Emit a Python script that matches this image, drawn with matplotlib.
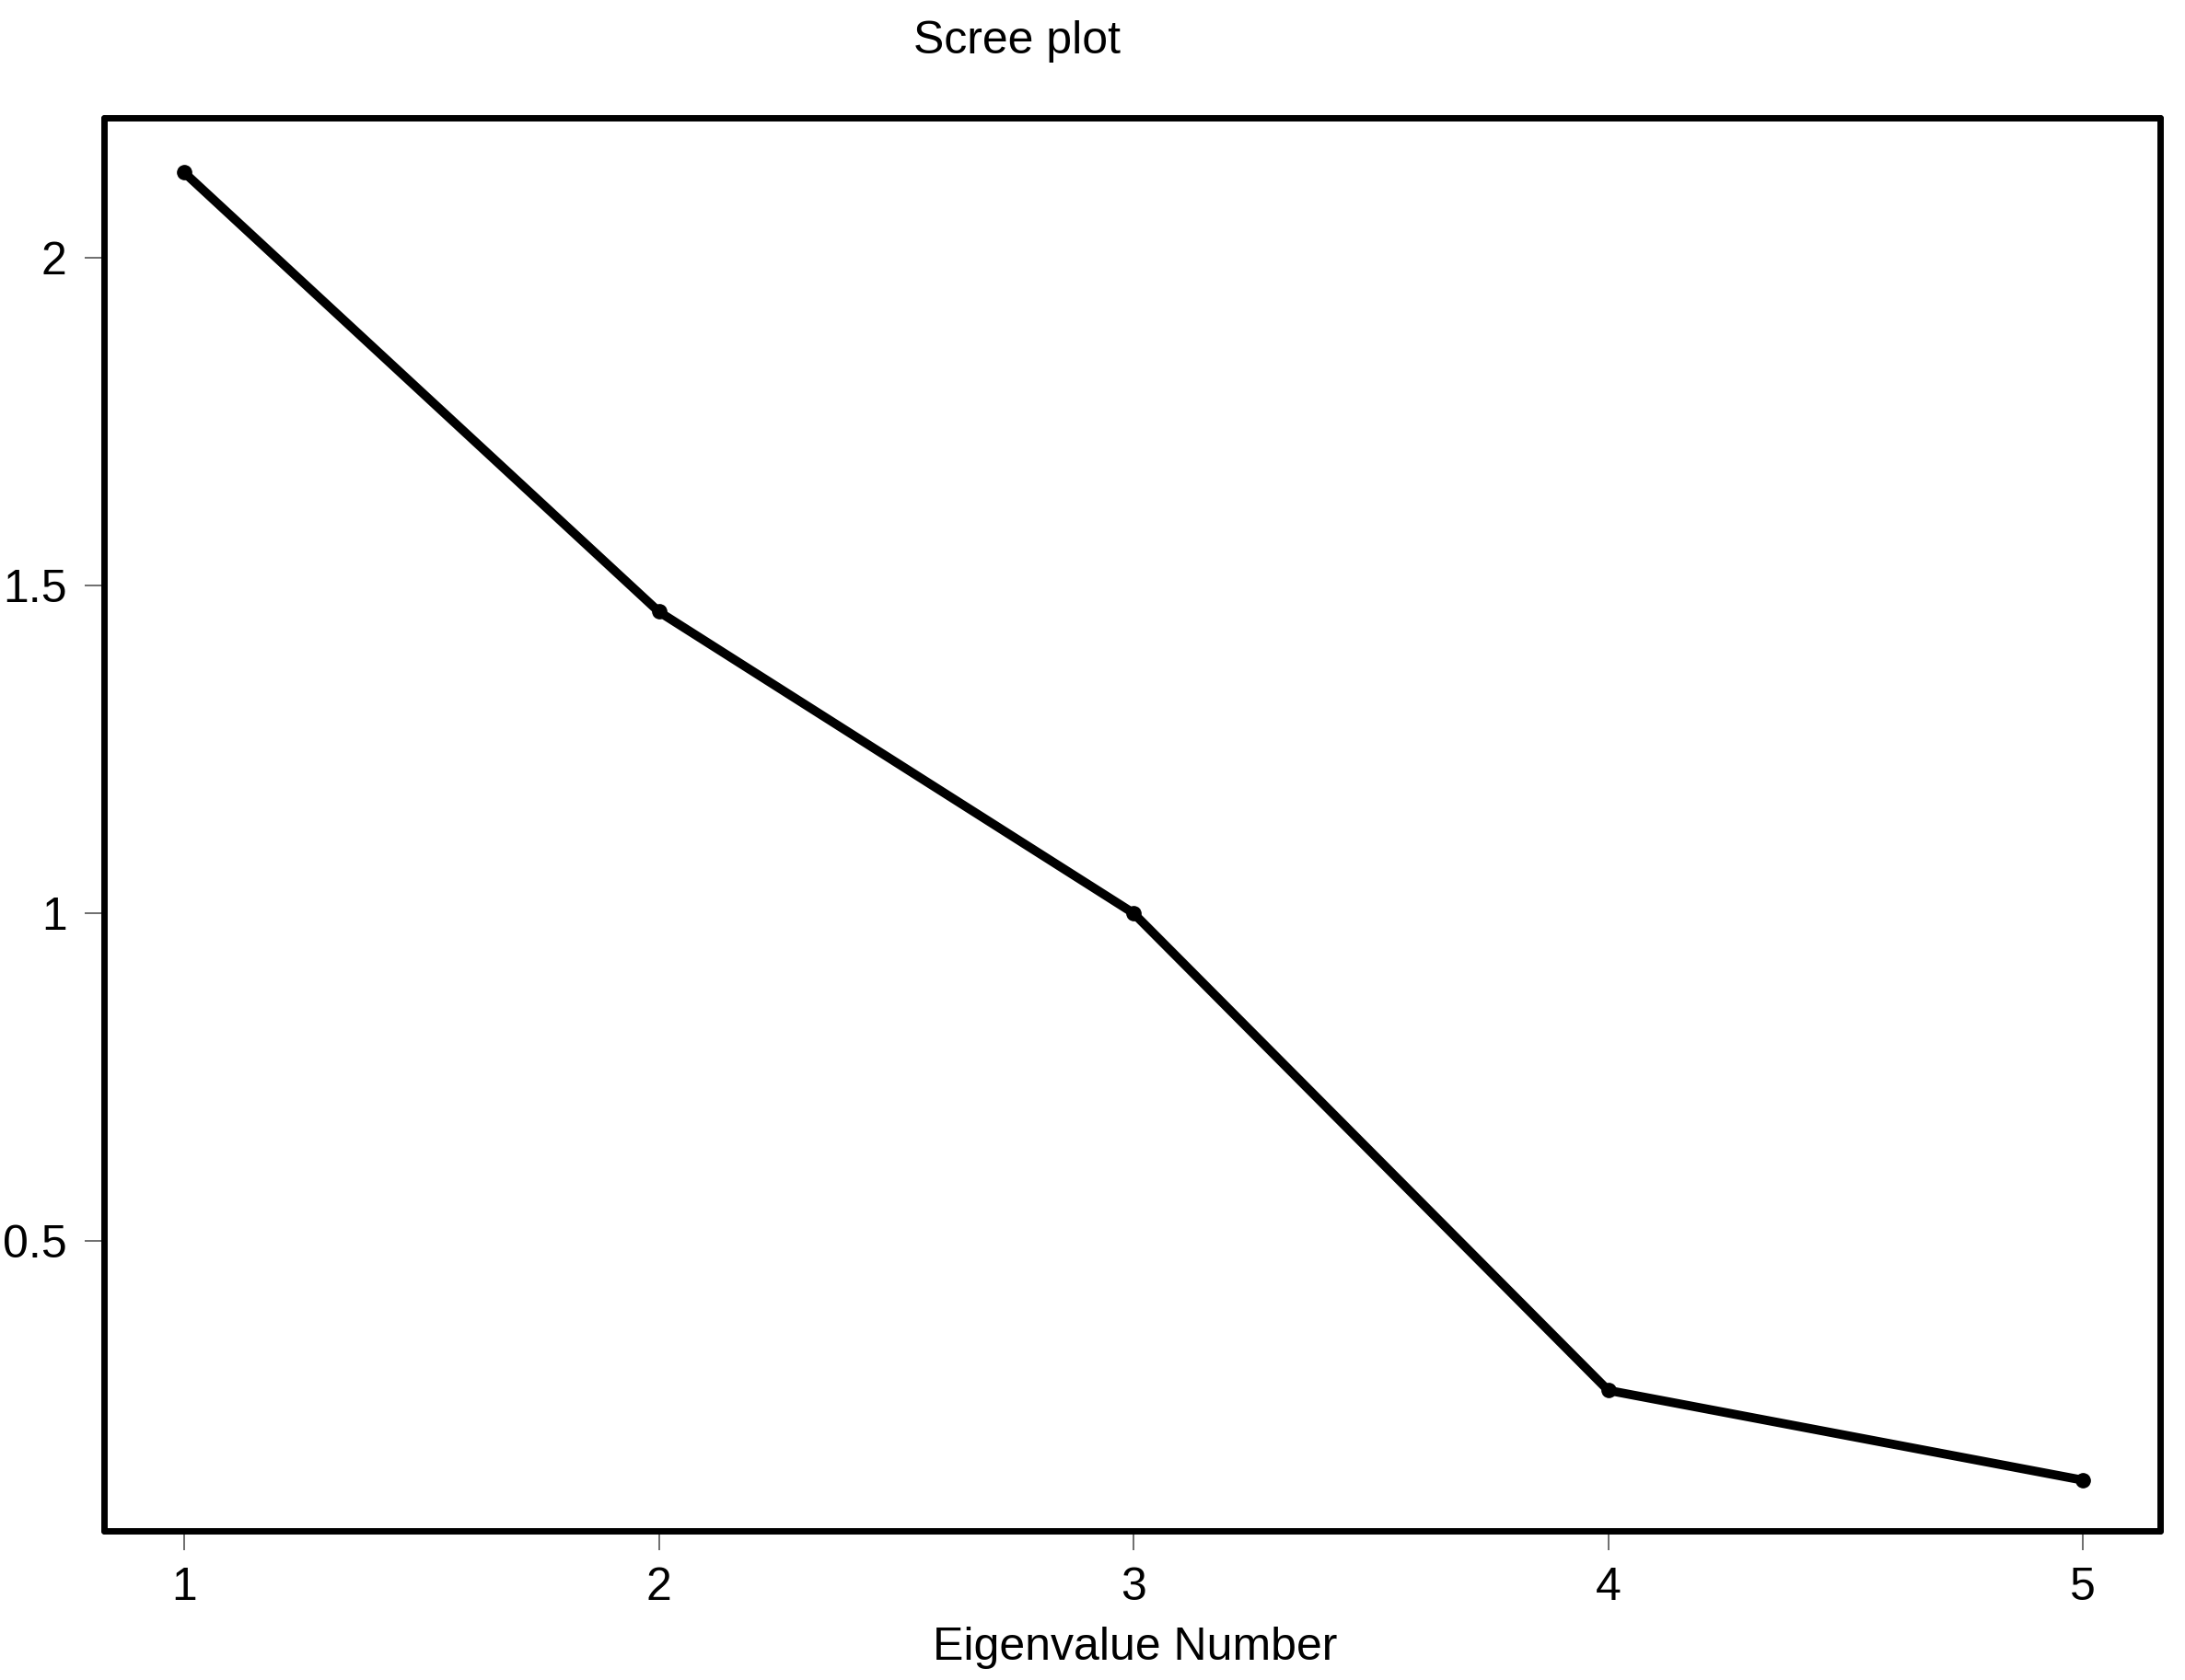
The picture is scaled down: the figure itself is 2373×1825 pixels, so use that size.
import matplotlib
matplotlib.use("Agg")
import matplotlib.pyplot as plt

# --- data ---
eig_num = [1, 2, 3, 4, 5]
eig_val = [2.13, 1.46, 1.0, 0.272, 0.135]
x_ticks = [1, 2, 3, 4, 5]
y_ticks = [0.5, 1, 1.5, 2]
y_tick_labels = ["0.5", "1", "1.5", "2"]

plt.rcParams["font.family"] = ["Liberation Sans", "DejaVu Sans"]

W, H = 2373, 1825
fig = plt.figure(figsize=(W / 100, H / 100), dpi=100)
ax = fig.add_axes([113 / W, 1 - 1663 / H, (2346 - 113) / W, (1663 - 128) / H])

ax.plot(eig_num, eig_val, color="black", lw=7, marker="o", ms=11,
        solid_joinstyle="round", solid_capstyle="round")

ax.set_xlim(0.831, 5.163)
ax.set_ylim(0.0576, 2.2135)
ax.set_xticks(x_ticks)
ax.set_xticklabels([str(v) for v in x_ticks])
ax.set_yticks(y_ticks)
ax.set_yticklabels(y_tick_labels)

for s in ax.spines.values():
    s.set_linewidth(5)
    s.set_capstyle("round")
    s.set_joinstyle("round")

ax.tick_params(axis="both", direction="out", length=15, width=1.2,
               color="#555555", labelsize=36)
ax.tick_params(axis="x", pad=13)
ax.tick_params(axis="y", pad=14)

fig.text(1104 / W, 1 - 45 / H, "Scree plot", ha="center", va="center", fontsize=36)
fig.text(1233 / W, 1 - 1790 / H, "Eigenvalue Number", ha="center", va="center", fontsize=36)

fig.savefig("out.png", dpi=100)
